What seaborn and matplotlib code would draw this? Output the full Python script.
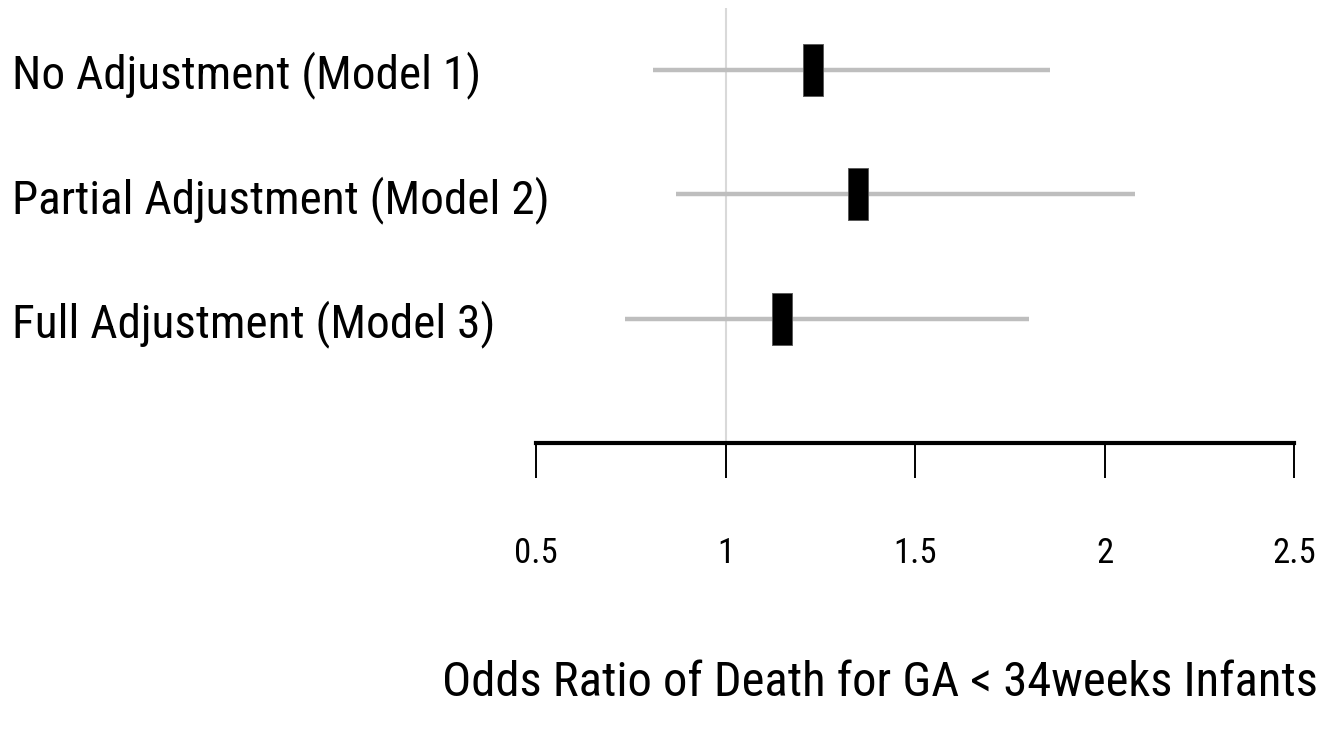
# Forest plot: odds ratio of death for GA < 34 weeks infants

import matplotlib
matplotlib.use("Agg")
import matplotlib.pyplot as plt
from matplotlib import font_manager
import seaborn as sns

models = ["No Adjustment (Model 1)", "Partial Adjustment (Model 2)", "Full Adjustment (Model 3)"]
odds_ratio = [1.23, 1.35, 1.15]
ci_lower = [0.81, 0.87, 0.735]
ci_upper = [1.855, 2.08, 1.80]
x_ticks = [0.5, 1, 1.5, 2, 2.5]
x_tick_labels = ["0.5", "1", "1.5", "2", "2.5"]

sns.set_style("white")

# pick the narrowest font that is around
names = {f.name for f in font_manager.fontManager.ttflist}
family = "DejaVu Sans"
for cand in ["Liberation Sans Narrow", "Roboto Condensed", "DejaVu Sans Condensed", "Liberation Sans"]:
    if cand in names:
        family = cand
        break
plt.rcParams["font.family"] = [family, "DejaVu Sans"]
plt.rcParams["font.stretch"] = "condensed"
plt.rcParams["text.color"] = "black"
plt.rcParams["axes.labelcolor"] = "black"
plt.rcParams["xtick.color"] = "black"
plt.rcParams["ytick.color"] = "black"

fig = plt.figure(figsize=(13.32, 7.33), dpi=100)
ax = fig.add_axes([536 / 1332, 1 - 443 / 733, 758 / 1332, 435 / 733])

ypos = list(range(len(models)))

# reference line at OR = 1
ax.axvline(1, color="#d9d9d9", lw=1.5, zorder=1)

# confidence intervals
ax.hlines(ypos, ci_lower, ci_upper, color="#bebebe", lw=3.2, zorder=2)

# point estimates as tall boxes
box = [(-0.2, -0.5), (0.2, -0.5), (0.2, 0.5), (-0.2, 0.5), (-0.2, -0.5)]
sns.scatterplot(x=odds_ratio, y=ypos, marker=box, s=1400, color="black",
                edgecolor="#555555", linewidth=0.6, ax=ax, zorder=3, legend=False)

ax.set_xlim(0.5, 2.5)
ax.set_ylim(3, -0.5)

ax.set_yticks(ypos)
ax.set_yticklabels(models, fontsize=34, ha="left")
ax.tick_params(axis="y", length=0, pad=(536 - 12) * 0.72)

ax.set_xticks(x_ticks)
ax.set_xticklabels(x_tick_labels, fontsize=25)
ax.tick_params(axis="x", direction="out", length=25, width=1.4, color="black",
               pad=43, bottom=True)

for side in ["top", "right", "left"]:
    ax.spines[side].set_visible(False)
ax.spines["bottom"].set_linewidth(3)
ax.spines["bottom"].set_color("black")

ax.set_xlabel("Odds Ratio of Death for GA < 34weeks Infants", fontsize=35)
ax.xaxis.label.set_va("center")
ax.xaxis.set_label_coords((880 - 536) / 758, (443 - 683) / 435)

fig.savefig("out.png", dpi=100)
